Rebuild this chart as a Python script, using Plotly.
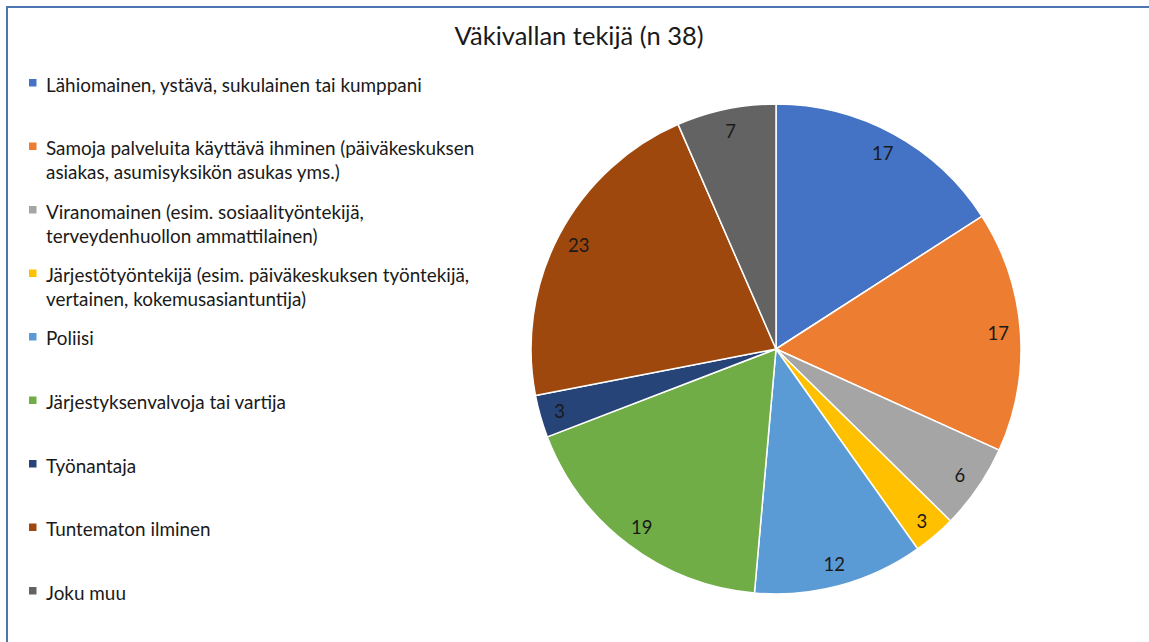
import plotly.graph_objects as go

title = "Väkivallan tekijä (n 38)"
categories = [
    "Lähiomainen, ystävä, sukulainen tai kumppani",
    "Samoja palveluita käyttävä ihminen (päiväkeskuksen\nasiakas, asumisyksikön asukas yms.)",
    "Viranomainen (esim. sosiaalityöntekijä,\nterveydenhuollon ammattilainen)",
    "Järjestötyöntekijä (esim. päiväkeskuksen työntekijä,\nvertainen, kokemusasiantuntija)",
    "Poliisi",
    "Järjestyksenvalvoja tai vartija",
    "Työnantaja",
    "Tuntematon ilminen",
    "Joku muu",
]
values = [17, 17, 6, 3, 12, 19, 3, 23, 7]
colors = ["#4472C4", "#ED7D31", "#A5A5A5", "#FFC000", "#5B9BD5",
          "#70AD47", "#264478", "#9E480E", "#636363"]

W, H = 1149, 642
FONT = "Lato"

def px(x):
    return x / W

def py(y):
    return 1 - y / H

cx, cy, R = 776, 349, 245
dom = dict(x=[px(cx - R), px(cx + R)], y=[py(cy + R), py(cy - R)])

fig = go.Figure()
# main pie
fig.add_trace(go.Pie(
    labels=[c.replace("\n", " ") for c in categories],
    values=values,
    sort=False,
    direction="clockwise",
    rotation=0,
    marker=dict(colors=colors, line=dict(color="white", width=1.5)),
    textinfo="none",
    domain=dom,
    showlegend=False,
    hoverinfo="label+value",
))
# transparent ring used only to position the value labels near the outer edge
fig.add_trace(go.Pie(
    labels=[c.replace("\n", " ") for c in categories],
    values=values,
    sort=False,
    direction="clockwise",
    rotation=0,
    hole=0.82,
    marker=dict(colors=["rgba(0,0,0,0)"] * len(values), line=dict(width=0)),
    textinfo="value",
    textposition="inside",
    insidetextorientation="horizontal",
    textfont=dict(family=FONT, size=18.5, color="#1a1a1a"),
    domain=dom,
    showlegend=False,
    hoverinfo="skip",
))

shapes = []
annotations = []
# legend built from the categories
for i, (cat, col) in enumerate(zip(categories, colors)):
    y0 = 84 + 63.5 * i
    shapes.append(dict(type="rect", xref="paper", yref="paper",
                       x0=px(29), x1=px(36.5), y0=py(y0 + 2.5), y1=py(y0 - 5),
                       fillcolor=col, line=dict(width=0)))
    for j, line in enumerate(cat.split("\n")):
        annotations.append(dict(
            text=line, xref="paper", yref="paper",
            x=px(44), y=py(y0 + 24 * j), xanchor="left", yanchor="middle",
            showarrow=False, font=dict(family=FONT, size=18.9, color="#1a1a1a"),
        ))

# chart border
shapes.append(dict(type="rect", xref="paper", yref="paper",
                   x0=px(7), x1=1.02, y0=-0.02, y1=py(7),
                   line=dict(color="#4F74B2", width=2), fillcolor="rgba(0,0,0,0)"))

fig.update_layout(
    width=W, height=H,
    margin=dict(l=0, r=0, t=0, b=0),
    paper_bgcolor="white",
    plot_bgcolor="white",
    title=dict(text=title, x=px(579), xanchor="center", y=py(36), yanchor="middle",
               font=dict(family=FONT, size=25.5, color="#1a1a1a")),
    shapes=shapes,
    annotations=annotations,
    showlegend=False,
)

fig.write_html("out.html", config={"displayModeBar": False},
               post_script="document.body.style.margin='0';")
